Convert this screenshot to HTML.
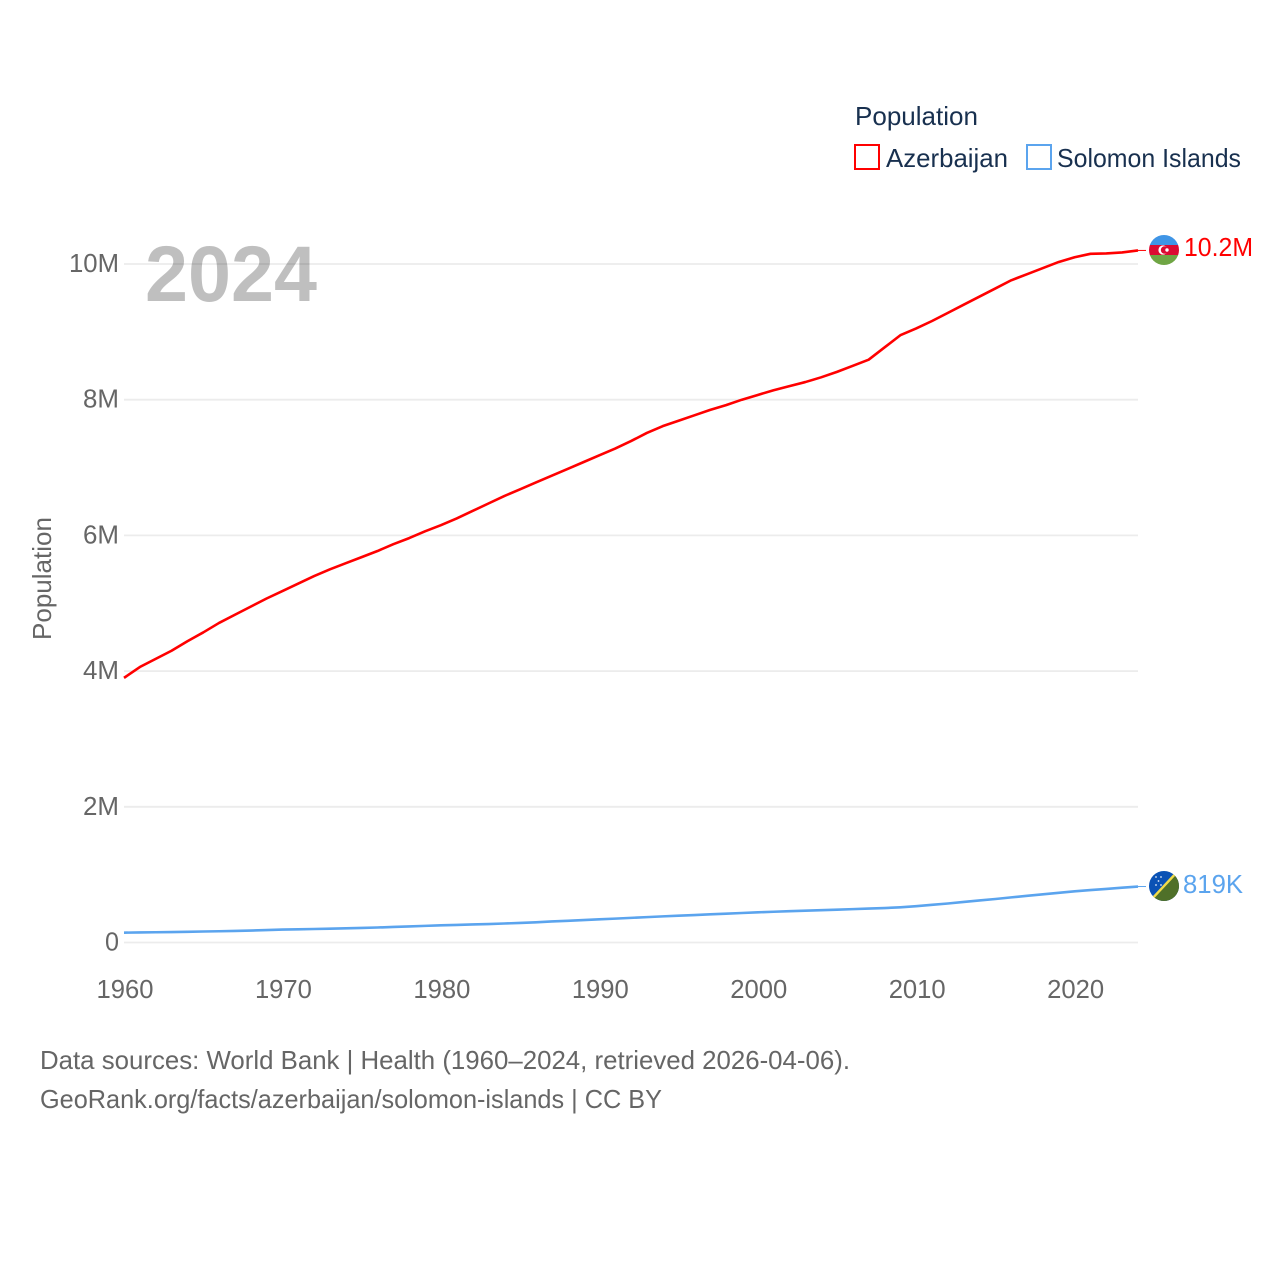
<!DOCTYPE html>
<html lang="en">
<head>
<meta charset="utf-8">
<title>Population: Azerbaijan and Solomon Islands</title>
<style>
html,body{margin:0;padding:0;background:#fff;}
svg{display:block;font-family:"Liberation Sans",sans-serif;}
</style>
</head>
<body>
<svg id="chart" width="1280" height="1280" viewBox="0 0 1280 1280" xmlns="http://www.w3.org/2000/svg">
  <defs>
    <clipPath id="flag-clip-az"><circle cx="1164" cy="250" r="15"/></clipPath>
    <clipPath id="flag-clip-sb"><circle cx="1164" cy="886" r="15"/></clipPath>
  </defs>
  <rect width="1280" height="1280" fill="#fff"/>
  <g id="grid"></g>
  <g id="yticks"></g>
  <g id="xticks"></g>
  <text x="145" y="301" font-size="79" font-weight="700" fill="#000" fill-opacity="0.25" textLength="172" lengthAdjust="spacingAndGlyphs">2024</text>
  <text transform="translate(51 640) rotate(-90)" font-size="26" fill="#666" textLength="123" lengthAdjust="spacingAndGlyphs">Population</text>

  <g>
    <text x="855" y="125" font-size="26" fill="#18304f" textLength="123" lengthAdjust="spacingAndGlyphs">Population</text>
    <g>
      <rect x="855" y="145" width="24" height="24" fill="#fff" stroke="#ff0000" stroke-width="2"/>
      <text x="886" y="167" font-size="26" fill="#18304f" textLength="122" lengthAdjust="spacingAndGlyphs">Azerbaijan</text>
    </g>
    <g>
      <rect x="1027" y="145" width="24" height="24" fill="#fff" stroke="#5ba4ee" stroke-width="2"/>
      <text x="1057" y="167" font-size="26" fill="#18304f" textLength="184" lengthAdjust="spacingAndGlyphs">Solomon Islands</text>
    </g>
  </g>

  <g id="series"></g>

  <g clip-path="url(#flag-clip-az)">
    <rect x="1149" y="235" width="30" height="10" fill="#3f95e6"/>
    <rect x="1149" y="245" width="30" height="10" fill="#dc0a32"/>
    <rect x="1149" y="255" width="30" height="10" fill="#6fa544"/>
    <circle cx="1163" cy="250" r="4.6" fill="#fff"/>
    <circle cx="1164.5" cy="250" r="3.7" fill="#dc0a32"/>
    <circle cx="1167" cy="250" r="1.7" fill="#fff"/>
  </g>
  <g clip-path="url(#flag-clip-sb)">
    <rect x="1149" y="871" width="30" height="30" fill="#0a52b5"/>
    <polygon points="1149,901 1179,871 1179,901" fill="#4f7029"/>
    <line x1="1150" y1="901" x2="1178" y2="871" stroke="#f2dc4a" stroke-width="2.4"/>
    <g fill="#dfe8f5">
      <circle cx="1156" cy="877" r="0.9"/><circle cx="1161" cy="877" r="0.9"/>
      <circle cx="1158.5" cy="881" r="0.9"/><circle cx="1156" cy="885" r="0.9"/>
      <circle cx="1161" cy="885" r="0.9"/>
    </g>
  </g>
  <text x="1184" y="256" font-size="26" fill="#ff0000" textLength="69" lengthAdjust="spacingAndGlyphs">10.2M</text>
  <text x="1183" y="893" font-size="26" fill="#5ba4ee" textLength="60" lengthAdjust="spacingAndGlyphs">819K</text>

  <text x="40" y="1069" font-size="26" fill="#666" textLength="810" lengthAdjust="spacingAndGlyphs">Data sources: World Bank | Health (1960–2024, retrieved 2026-04-06).</text>
  <text x="40" y="1108" font-size="26" fill="#666" textLength="622" lengthAdjust="spacingAndGlyphs">GeoRank.org/facts/azerbaijan/solomon-islands | CC BY</text>
</svg>
<script>
var years = [1960,1961,1962,1963,1964,1965,1966,1967,1968,1969,1970,1971,1972,1973,1974,1975,1976,1977,1978,1979,1980,1981,1982,1983,1984,1985,1986,1987,1988,1989,1990,1991,1992,1993,1994,1995,1996,1997,1998,1999,2000,2001,2002,2003,2004,2005,2006,2007,2008,2009,2010,2011,2012,2013,2014,2015,2016,2017,2018,2019,2020,2021,2022,2023,2024];
var azerbaijan = [3.90,4.06,4.18,4.30,4.44,4.57,4.71,4.83,4.95,5.07,5.18,5.29,5.40,5.50,5.59,5.68,5.77,5.87,5.96,6.06,6.15,6.25,6.36,6.47,6.58,6.68,6.78,6.88,6.98,7.08,7.18,7.28,7.39,7.51,7.61,7.69,7.77,7.85,7.92,8.00,8.07,8.14,8.20,8.26,8.33,8.41,8.50,8.59,8.77,8.95,9.05,9.16,9.28,9.40,9.52,9.64,9.76,9.85,9.94,10.03,10.10,10.15,10.155,10.17,10.20];
var solomonIslands = [0.145,0.148,0.151,0.154,0.157,0.162,0.166,0.171,0.176,0.183,0.190,0.194,0.199,0.204,0.209,0.214,0.221,0.229,0.237,0.245,0.253,0.259,0.266,0.272,0.280,0.288,0.298,0.310,0.320,0.331,0.342,0.352,0.363,0.374,0.385,0.395,0.405,0.415,0.425,0.435,0.445,0.453,0.461,0.469,0.477,0.484,0.492,0.500,0.508,0.519,0.535,0.555,0.575,0.598,0.620,0.641,0.665,0.688,0.710,0.733,0.755,0.773,0.790,0.808,0.825];
var yTickValues = [0,2,4,6,8,10];
var yTickLabels = ["0","2M","4M","6M","8M","10M"];
var xTickYears = [1960,1970,1980,1990,2000,2010,2020];

var NS = "http://www.w3.org/2000/svg";
function xScale(year){ return 124 + (year - 1960) * (1138 - 124) / 64; }
function yScale(v){ return 942.5 - v * 67.85; }
function make(tag, attrs, parent){
  var el = document.createElementNS(NS, tag);
  for (var k in attrs) el.setAttribute(k, attrs[k]);
  parent.appendChild(el);
  return el;
}
var grid = document.getElementById("grid");
var yticks = document.getElementById("yticks");
var xticks = document.getElementById("xticks");
var series = document.getElementById("series");

yTickValues.forEach(function(v, i){
  var line = make("line", {x1:124, x2:1138, y1:yScale(v), y2:yScale(v), stroke:"#ececec", "stroke-width":1.8}, grid);
  
  
  var label = yTickLabels[i];
  var w = label.length === 1 ? 14 : (label.length === 2 ? 36 : 50);
  var t = make("text", {x:119, y:yScale(v) + 8, "text-anchor":"end", "font-size":26, fill:"#666", textLength:w, lengthAdjust:"spacingAndGlyphs"}, yticks);
  
  
  t.textContent = label;
});

xTickYears.forEach(function(year){
  var t = make("text", {x:xScale(year) + 1, y:998, "text-anchor":"middle", "font-size":26, fill:"#666", textLength:57, lengthAdjust:"spacingAndGlyphs"}, xticks);
  
  
  t.textContent = year;
});

function drawSeries(values, color, name){
  var d = values.map(function(v, i){
    return (i ? "L" : "M") + xScale(years[i]).toFixed(2) + " " + yScale(v).toFixed(2);
  }).join(" ");
  var path = make("path", {d:d, fill:"none", stroke:color, "stroke-width":2.6, "stroke-linejoin":"round"}, series);
  
  
  var last = yScale(values[values.length - 1]);
  var conn = make("line", {x1:xScale(years[years.length - 1]), y1:last, x2:1146, y2:last, stroke:color, "stroke-width":1}, series);
  
  
}
drawSeries(azerbaijan, "#ff0000", "line-azerbaijan");
drawSeries(solomonIslands, "#5ba4ee", "line-solomon-islands");
</script>
</body>
</html>
